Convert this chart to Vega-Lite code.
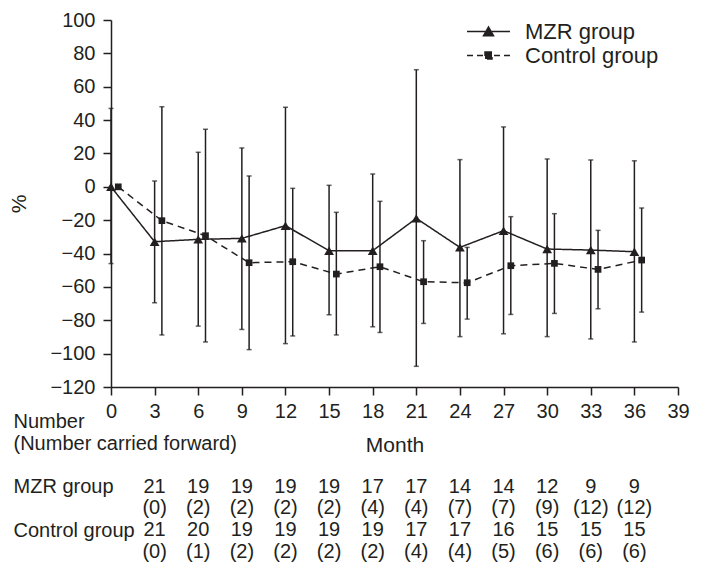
{
  "$schema": "https://vega.github.io/schema/vega-lite/v6.json",
  "width": 567,
  "height": 367,
  "padding": {"left": 8, "top": 10, "right": 5, "bottom": 2},
  "config": {
    "font": "Liberation Sans",
    "view": {"stroke": null},
    "axis": {
      "grid": false,
      "labelFont": "Liberation Sans",
      "labelFontSize": 20,
      "labelColor": "#231f20",
      "labelOverlap": false,
      "labelLimit": 0,
      "domainColor": "#231f20",
      "tickColor": "#231f20",
      "domainWidth": 1.5,
      "tickWidth": 1.5,
      "titleFont": "Liberation Sans",
      "titleFontSize": 21,
      "titleFontWeight": "normal",
      "titleColor": "#231f20"
    }
  },
  "datasets": {
    "series": [
      {"group": "MZR group", "x": 0, "mean": 0, "lo": -46, "hi": 47},
      {"group": "MZR group", "x": 3, "mean": -32.9, "lo": -69.5, "hi": 3.5},
      {"group": "MZR group", "x": 6, "mean": -31.5, "lo": -83.5, "hi": 20.7},
      {"group": "MZR group", "x": 9, "mean": -30.9, "lo": -85.5, "hi": 23.3},
      {"group": "MZR group", "x": 12, "mean": -23.3, "lo": -94.0, "hi": 47.7},
      {"group": "MZR group", "x": 15, "mean": -38.3, "lo": -76.7, "hi": 0.9},
      {"group": "MZR group", "x": 18, "mean": -38.3, "lo": -83.9, "hi": 7.7},
      {"group": "MZR group", "x": 21, "mean": -18.9, "lo": -107.6, "hi": 70.2},
      {"group": "MZR group", "x": 24, "mean": -36.3, "lo": -89.8, "hi": 16.3},
      {"group": "MZR group", "x": 27, "mean": -26.3, "lo": -88.1, "hi": 35.9},
      {"group": "MZR group", "x": 30, "mean": -37.3, "lo": -89.8, "hi": 16.7},
      {"group": "MZR group", "x": 33, "mean": -37.9, "lo": -91.2, "hi": 16.1},
      {"group": "MZR group", "x": 36, "mean": -38.9, "lo": -93.0, "hi": 15.6},
      {"group": "Control group", "x": 0.5, "mean": 0, "lo": null, "hi": null},
      {"group": "Control group", "x": 3.5, "mean": -20.3, "lo": -88.8, "hi": 48.0},
      {"group": "Control group", "x": 6.5, "mean": -29.3, "lo": -93.0, "hi": 34.5},
      {"group": "Control group", "x": 9.5, "mean": -45.5, "lo": -97.6, "hi": 6.5},
      {"group": "Control group", "x": 12.5, "mean": -44.9, "lo": -89.4, "hi": -0.9},
      {"group": "Control group", "x": 15.5, "mean": -52.3, "lo": -88.8, "hi": -15.3},
      {"group": "Control group", "x": 18.5, "mean": -47.9, "lo": -87.3, "hi": -8.7},
      {"group": "Control group", "x": 21.5, "mean": -56.9, "lo": -81.9, "hi": -32.3},
      {"group": "Control group", "x": 24.5, "mean": -57.5, "lo": -79.3, "hi": -36.3},
      {"group": "Control group", "x": 27.5, "mean": -47.3, "lo": -76.5, "hi": -17.9},
      {"group": "Control group", "x": 30.5, "mean": -45.9, "lo": -75.9, "hi": -16.1},
      {"group": "Control group", "x": 33.5, "mean": -49.5, "lo": -73.1, "hi": -26.1},
      {"group": "Control group", "x": 36.5, "mean": -43.9, "lo": -75.1, "hi": -12.7}
    ],
    "table": [
      {"x": 3, "row": "MZR group", "label": "21"},
      {"x": 6, "row": "MZR group", "label": "19"},
      {"x": 9, "row": "MZR group", "label": "19"},
      {"x": 12, "row": "MZR group", "label": "19"},
      {"x": 15, "row": "MZR group", "label": "19"},
      {"x": 18, "row": "MZR group", "label": "17"},
      {"x": 21, "row": "MZR group", "label": "17"},
      {"x": 24, "row": "MZR group", "label": "14"},
      {"x": 27, "row": "MZR group", "label": "14"},
      {"x": 30, "row": "MZR group", "label": "12"},
      {"x": 33, "row": "MZR group", "label": "9"},
      {"x": 36, "row": "MZR group", "label": "9"},
      {"x": 3, "row": "MZR cf", "label": "(0)"},
      {"x": 6, "row": "MZR cf", "label": "(2)"},
      {"x": 9, "row": "MZR cf", "label": "(2)"},
      {"x": 12, "row": "MZR cf", "label": "(2)"},
      {"x": 15, "row": "MZR cf", "label": "(2)"},
      {"x": 18, "row": "MZR cf", "label": "(4)"},
      {"x": 21, "row": "MZR cf", "label": "(4)"},
      {"x": 24, "row": "MZR cf", "label": "(7)"},
      {"x": 27, "row": "MZR cf", "label": "(7)"},
      {"x": 30, "row": "MZR cf", "label": "(9)"},
      {"x": 33, "row": "MZR cf", "label": "(12)"},
      {"x": 36, "row": "MZR cf", "label": "(12)"},
      {"x": 3, "row": "Control group", "label": "21"},
      {"x": 6, "row": "Control group", "label": "20"},
      {"x": 9, "row": "Control group", "label": "19"},
      {"x": 12, "row": "Control group", "label": "19"},
      {"x": 15, "row": "Control group", "label": "19"},
      {"x": 18, "row": "Control group", "label": "19"},
      {"x": 21, "row": "Control group", "label": "17"},
      {"x": 24, "row": "Control group", "label": "17"},
      {"x": 27, "row": "Control group", "label": "16"},
      {"x": 30, "row": "Control group", "label": "15"},
      {"x": 33, "row": "Control group", "label": "15"},
      {"x": 36, "row": "Control group", "label": "15"},
      {"x": 3, "row": "Control cf", "label": "(0)"},
      {"x": 6, "row": "Control cf", "label": "(1)"},
      {"x": 9, "row": "Control cf", "label": "(2)"},
      {"x": 12, "row": "Control cf", "label": "(2)"},
      {"x": 15, "row": "Control cf", "label": "(2)"},
      {"x": 18, "row": "Control cf", "label": "(2)"},
      {"x": 21, "row": "Control cf", "label": "(4)"},
      {"x": 24, "row": "Control cf", "label": "(4)"},
      {"x": 27, "row": "Control cf", "label": "(5)"},
      {"x": 30, "row": "Control cf", "label": "(6)"},
      {"x": 33, "row": "Control cf", "label": "(6)"},
      {"x": 36, "row": "Control cf", "label": "(6)"}
    ]
  },
  "layer": [
    {
      "data": {"name": "series"},
      "encoding": {
        "x": {
          "field": "x",
          "type": "quantitative",
          "scale": {"domain": [0, 39], "nice": false, "zero": false},
          "axis": {
            "values": [0, 3, 6, 9, 12, 15, 18, 21, 24, 27, 30, 33, 36, 39],
            "title": "Month",
            "tickSize": 8,
            "labelPadding": 6,
            "titlePadding": 13,
            "labelFlush": false
          }
        }
      },
      "layer": [
        {
          "transform": [{"filter": "isValid(datum.lo)"}],
          "mark": {"type": "errorbar", "ticks": {"size": 5, "thickness": 1.5}, "thickness": 1.5, "color": "#231f20"},
          "encoding": {
            "y": {
              "field": "lo",
              "type": "quantitative",
              "scale": {"domain": [-120, 100], "nice": false},
              "axis": {"values": [-120, -100, -80, -60, -40, -20, 0, 20, 40, 60, 80, 100], "title": "%", "tickSize": 8, "labelPadding": 8, "titlePadding": 20}
            },
            "y2": {"field": "hi"}
          }
        },
        {
          "mark": {"type": "line", "strokeWidth": 1.5},
          "encoding": {
            "y": {
              "field": "mean",
              "type": "quantitative",
              "scale": {"domain": [-120, 100], "nice": false},
              "axis": {"values": [-120, -100, -80, -60, -40, -20, 0, 20, 40, 60, 80, 100], "title": "%", "tickSize": 8, "labelPadding": 8, "titlePadding": 20}
            },
            "color": {
              "field": "group",
              "type": "nominal",
              "scale": {"domain": ["MZR group", "Control group"], "range": ["#231f20", "#231f20"]},
              "legend": {
                "title": null,
                "orient": "none",
                "legendX": 366.5,
                "legendY": 0.5,
                "padding": 0,
                "labelFont": "Liberation Sans",
                "labelFontSize": 22,
                "labelColor": "#231f20",
                "labelOffset": 25.5,
                "labelLimit": 0,
                "symbolSize": 100,
                "symbolStrokeWidth": 1.5,
                "rowPadding": 2,
                "encode": {
                  "symbols": {
                    "update": {
                      "shape": {"signal": "datum.value === 'MZR group' ? 'M-4.3,0H4.3M-1,0.85L0,-0.9L1,0.85Z' : 'M-4.3,0H-3.1M-2.3,0H-1.1M1.1,0H2.3M3.1,0H4.3M-0.7,-0.7H0.7V0.7H-0.7Z'"},
                      "fill": {"value": "#231f20"},
                      "stroke": {"value": "#231f20"},
                      "strokeDash": {"value": []}
                    }
                  }
                }
              }
            },
            "strokeDash": {
              "field": "group",
              "type": "nominal",
              "scale": {"domain": ["MZR group", "Control group"], "range": [[1, 0], [7, 5]]},
              "legend": null
            }
          }
        },
        {
          "transform": [{"filter": "datum.group === 'MZR group'"}],
          "mark": {"type": "point", "shape": "triangle-up", "size": 95, "filled": true, "color": "#231f20", "opacity": 1},
          "encoding": {
            "y": {
              "field": "mean",
              "type": "quantitative",
              "scale": {"domain": [-120, 100], "nice": false},
              "axis": {"values": [-120, -100, -80, -60, -40, -20, 0, 20, 40, 60, 80, 100], "title": "%", "tickSize": 8, "labelPadding": 8, "titlePadding": 20}
            }
          }
        },
        {
          "transform": [{"filter": "datum.group === 'Control group'"}],
          "mark": {"type": "point", "shape": "square", "size": 45, "filled": true, "color": "#231f20", "opacity": 1},
          "encoding": {
            "y": {
              "field": "mean",
              "type": "quantitative",
              "scale": {"domain": [-120, 100], "nice": false},
              "axis": {"values": [-120, -100, -80, -60, -40, -20, 0, 20, 40, 60, 80, 100], "title": "%", "tickSize": 8, "labelPadding": 8, "titlePadding": 20}
            }
          }
        }
      ]
    },
    {
      "data": {"name": "table"},
      "mark": {"type": "text", "font": "Liberation Sans", "fontSize": 20, "color": "#231f20", "baseline": "middle", "align": "center"},
      "encoding": {
        "x": {
          "field": "x",
          "type": "quantitative",
          "axis": {
            "values": [0, 3, 6, 9, 12, 15, 18, 21, 24, 27, 30, 33, 36, 39],
            "title": "Month",
            "tickSize": 8,
            "labelPadding": 6,
            "titlePadding": 13,
            "labelFlush": false
          }
        },
        "y": {
          "field": "row",
          "type": "ordinal",
          "scale": {
            "type": "point",
            "domain": ["Number", "(Number carried forward)", "gap", "MZR group", "MZR cf", "Control group", "Control cf"],
            "range": [401.7, 531.7],
            "padding": 0
          },
          "axis": {
            "orient": "left",
            "title": null,
            "domain": false,
            "ticks": false,
            "labelAlign": "left",
            "labelBaseline": "middle",
            "labelPadding": 98,
            "labelFontSize": 20,
            "labelExpr": "indexof(['gap', 'MZR cf', 'Control cf'], datum.value) >= 0 ? '' : datum.value"
          }
        },
        "text": {"field": "label"}
      }
    }
  ],
  "resolve": {"scale": {"y": "independent"}}
}
